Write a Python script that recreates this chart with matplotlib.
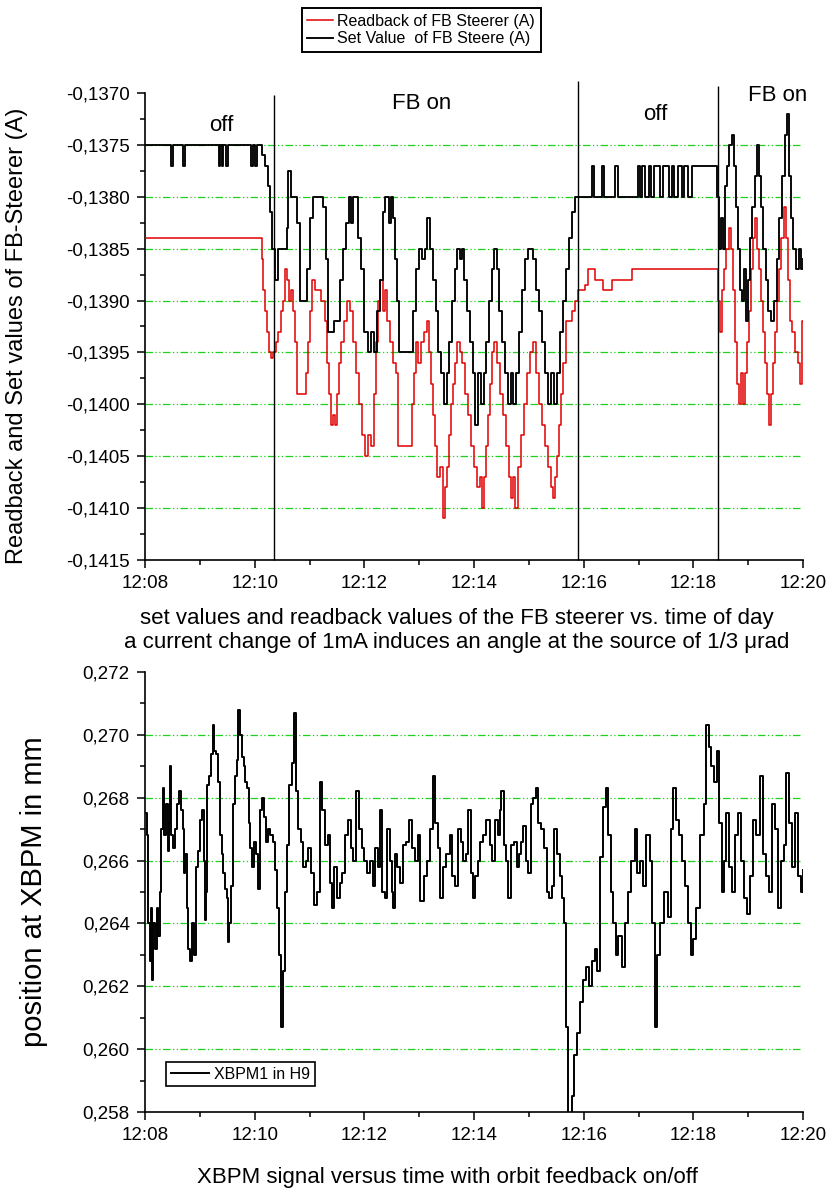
import matplotlib
matplotlib.use('Agg')
import matplotlib.pyplot as plt
from matplotlib.ticker import MultipleLocator, FuncFormatter

plt.rcParams['font.family'] = ['Liberation Sans', 'DejaVu Sans']
plt.rcParams['axes.unicode_minus'] = False

# times are minutes after 12:00
set_t = [8.00, 8.48, 8.51, 8.70, 8.73, 9.34, 9.37, 9.40, 9.43, 9.48, 9.52, 9.93, 9.97, 10.00, 10.05,
         10.13, 10.19, 10.24, 10.28, 10.32, 10.37, 10.43, 10.59, 10.61, 10.66, 10.77, 10.83, 10.95,
         11.01, 11.06, 11.25, 11.30, 11.34, 11.45, 11.56, 11.61, 11.67, 11.72, 11.76, 11.80, 11.88,
         11.94, 11.99, 12.07, 12.12, 12.18, 12.23, 12.29, 12.34, 12.38, 12.45, 12.49, 12.52, 12.56,
         12.60, 12.63, 12.89, 12.94, 12.99, 13.05, 13.11, 13.14, 13.20, 13.25, 13.31, 13.34, 13.40,
         13.45, 13.51, 13.54, 13.60, 13.65, 13.69, 13.75, 13.78, 13.82, 13.87, 13.93, 13.98, 14.02,
         14.07, 14.13, 14.18, 14.22, 14.27, 14.33, 14.37, 14.42, 14.46, 14.51, 14.57, 14.62, 14.68,
         14.71, 14.77, 14.82, 14.88, 14.93, 14.98, 15.08, 15.13, 15.19, 15.24, 15.30, 15.35, 15.40,
         15.46, 15.51, 15.57, 15.62, 15.68, 15.73, 15.79, 15.84, 16.15, 16.19, 16.34, 16.37, 16.57,
         16.63, 16.99, 17.03, 17.06, 17.12, 17.19, 17.23, 17.28, 17.39, 17.45, 17.56, 17.61, 17.65,
         17.72, 17.80, 17.83, 17.90, 17.98, 18.43, 18.47, 18.51, 18.54, 18.58, 18.61, 18.65, 18.71,
         18.74, 18.78, 18.82, 18.85, 18.89, 18.92, 18.96, 19.00, 19.03, 19.07, 19.13, 19.16, 19.20,
         19.24, 19.27, 19.33, 19.36, 19.42, 19.47, 19.53, 19.56, 19.62, 19.67, 19.71, 19.75, 19.78,
         19.82, 19.87, 19.93, 19.96, 20.00]
set_v = [-0.1375, -0.1377, -0.1375, -0.1377, -0.1375, -0.1377, -0.1375, -0.1377, -0.1375, -0.1377,
         -0.1375, -0.1377, -0.1375, -0.1377, -0.1375,
         -0.1376, -0.1377, -0.1379, -0.13815, -0.1385, -0.1388, -0.1385, -0.1383, -0.13775, -0.1380,
         -0.13825, -0.1390, -0.1387, -0.1382, -0.1380, -0.1381, -0.1386, -0.1393, -0.1392, -0.1388,
         -0.1385, -0.13825, -0.1380, -0.13825, -0.1380, -0.1384, -0.1387, -0.1393, -0.1395, -0.1393,
         -0.1395, -0.1391, -0.1388, -0.13815, -0.1380, -0.13825, -0.1380, -0.1382, -0.1386, -0.1390,
         -0.1395, -0.1391, -0.1387, -0.1385, -0.1386, -0.1385, -0.1382, -0.1385, -0.1388, -0.1391,
         -0.1395, -0.1397, -0.1400, -0.1397, -0.1394, -0.1390, -0.1387, -0.1385, -0.1386, -0.1385,
         -0.1388, -0.1391, -0.1394, -0.1397, -0.1402, -0.1397, -0.1400, -0.1397, -0.1394, -0.1390,
         -0.1387, -0.1385, -0.1387, -0.1391, -0.1394, -0.1397, -0.1400, -0.1397, -0.1400, -0.1397,
         -0.1393, -0.1389, -0.1386, -0.1385, -0.1386, -0.1389, -0.1391, -0.1394, -0.1397, -0.1400,
         -0.1397, -0.1400, -0.1397, -0.1393, -0.1390, -0.1387, -0.1384, -0.13815, -0.1380, -0.1377,
         -0.1380, -0.1377, -0.1380, -0.1377, -0.1380, -0.1377, -0.1380, -0.1377, -0.1380, -0.1377,
         -0.1380, -0.1377, -0.1380, -0.1377, -0.1380, -0.1377, -0.1380, -0.1377, -0.1380, -0.1377,
         -0.1380, -0.1377, -0.1380, -0.1385, -0.1382, -0.1385, -0.1379, -0.1377, -0.1375, -0.1374,
         -0.1377, -0.1381, -0.1385, -0.1389, -0.1390, -0.1387, -0.1392, -0.1388, -0.1384, -0.1381,
         -0.1378, -0.1375, -0.1378, -0.1381, -0.1385, -0.1388, -0.1391, -0.1392, -0.1390, -0.1386,
         -0.1382, -0.1378, -0.1374, -0.1372, -0.1378, -0.1382, -0.1385, -0.1387, -0.1385, -0.1387,
         -0.1386]

rb_t = [8.00, 10.13, 10.15, 10.19, 10.22, 10.26, 10.30, 10.33, 10.39, 10.43, 10.48, 10.52, 10.55,
        10.59, 10.63, 10.66, 10.70, 10.74, 10.77, 10.81, 10.94, 10.97, 11.01, 11.05, 11.10, 11.16,
        11.21, 11.28, 11.32, 11.36, 11.39, 11.43, 11.47, 11.50, 11.54, 11.57, 11.63, 11.68, 11.74,
        11.79, 11.85, 11.90, 11.96, 12.01, 12.07, 12.12, 12.18, 12.21, 12.25, 12.29, 12.34, 12.38,
        12.41, 12.47, 12.52, 12.58, 12.61, 12.87, 12.91, 12.94, 12.98, 13.04, 13.09, 13.14, 13.18,
        13.22, 13.25, 13.29, 13.33, 13.38, 13.43, 13.47, 13.51, 13.54, 13.58, 13.62, 13.65, 13.69,
        13.75, 13.78, 13.84, 13.89, 13.95, 14.00, 14.06, 14.11, 14.15, 14.18, 14.22, 14.26, 14.29,
        14.33, 14.37, 14.42, 14.47, 14.53, 14.58, 14.64, 14.68, 14.71, 14.75, 14.80, 14.86, 14.91,
        14.97, 15.02, 15.08, 15.13, 15.19, 15.24, 15.30, 15.35, 15.40, 15.44, 15.48, 15.51, 15.55,
        15.59, 15.62, 15.68, 15.73, 15.79, 15.84, 15.90, 15.97, 16.02, 16.08, 16.20, 16.35, 16.52,
        16.88, 18.45, 18.48, 18.52, 18.56, 18.60, 18.65, 18.69, 18.72, 18.76, 18.80, 18.83, 18.87,
        18.91, 18.94, 18.98, 19.01, 19.05, 19.09, 19.13, 19.16, 19.20, 19.24, 19.27, 19.31, 19.35,
        19.38, 19.42, 19.45, 19.49, 19.53, 19.56, 19.60, 19.66, 19.69, 19.73, 19.76, 19.80, 19.85,
        19.91, 19.95, 19.98, 20.00]
rb_v = [-0.1384, -0.1386, -0.1389, -0.1391, -0.1393, -0.1395, -0.13955, -0.1395, -0.1394, -0.1393,
        -0.1391, -0.1390, -0.1387, -0.1388, -0.1390, -0.1389, -0.1391, -0.1394, -0.1399, -0.1399,
        -0.1397, -0.1394, -0.1391, -0.1388, -0.1389, -0.1389, -0.1390, -0.1392, -0.1396, -0.1399,
        -0.1402, -0.1401, -0.1402, -0.1399, -0.1396, -0.1394, -0.1392, -0.1390, -0.1391, -0.1394,
        -0.1397, -0.1400, -0.1403, -0.1405, -0.1403, -0.1404, -0.1399, -0.1394, -0.1390, -0.1388,
        -0.1391, -0.1389, -0.1392, -0.1394, -0.1396, -0.1397, -0.1404, -0.1400, -0.1397, -0.1394,
        -0.1396, -0.1394, -0.1393, -0.1392, -0.1395, -0.1398, -0.1401, -0.1404, -0.1407, -0.1406,
        -0.1411, -0.1408, -0.1406, -0.1403, -0.1400, -0.1398, -0.1396, -0.1394, -0.1395, -0.1396,
        -0.1399, -0.1401, -0.1404, -0.1406, -0.1408, -0.1407, -0.1410, -0.1407, -0.1404, -0.1401,
        -0.1398, -0.1395, -0.1394, -0.1396, -0.1399, -0.1401, -0.1404, -0.1407, -0.1409, -0.1407,
        -0.1410, -0.1406, -0.1403, -0.1400, -0.1397, -0.1395, -0.1394, -0.1397, -0.1400, -0.1402,
        -0.1404, -0.1406, -0.1408, -0.1409, -0.1407, -0.1405, -0.1402, -0.1399, -0.1396, -0.1392,
        -0.1392, -0.1391, -0.1390, -0.1389, -0.1389, -0.13885, -0.1387, -0.1388, -0.1389, -0.1388,
        -0.1387, -0.1390, -0.1393, -0.1389, -0.1387, -0.1385, -0.1383, -0.1385, -0.1389, -0.1394,
        -0.1398, -0.1400, -0.1397, -0.1400, -0.1397, -0.1394, -0.1391, -0.1387, -0.1384, -0.1382,
        -0.1385, -0.1387, -0.1390, -0.1393, -0.1396, -0.1399, -0.1402, -0.1399, -0.1396, -0.1393,
        -0.1390, -0.1387, -0.1384, -0.1381, -0.1384, -0.1388, -0.1392, -0.1393, -0.1395, -0.1396,
        -0.1398, -0.1392, -0.1392]

xbpm_t = [8.000, 8.040, 8.060, 8.091, 8.110, 8.128, 8.150, 8.182, 8.210, 8.237, 8.274, 8.300, 8.328,
          8.350, 8.380, 8.410, 8.440, 8.456, 8.475, 8.511, 8.547, 8.584, 8.620, 8.650, 8.693, 8.715,
          8.730, 8.760, 8.784, 8.821, 8.860, 8.900, 8.930, 8.967, 9.003, 9.040, 9.075, 9.094, 9.115,
          9.131, 9.160, 9.200, 9.240, 9.260, 9.300, 9.331, 9.368, 9.400, 9.430, 9.460, 9.490, 9.514,
          9.540, 9.570, 9.605, 9.641, 9.670, 9.700, 9.730, 9.769, 9.800, 9.830, 9.860, 9.890, 9.915,
          9.950, 9.990, 10.020, 10.061, 10.090, 10.130, 10.170, 10.200, 10.240, 10.280, 10.330,
          10.371, 10.400, 10.440, 10.480, 10.510, 10.550, 10.590, 10.630, 10.680, 10.717, 10.750,
          10.790, 10.840, 10.880, 10.930, 10.980, 11.030, 11.090, 11.140, 11.192, 11.230, 11.283,
          11.330, 11.374, 11.410, 11.450, 11.500, 11.556, 11.600, 11.640, 11.700, 11.760, 11.800,
          11.850, 11.900, 11.960, 12.000, 12.050, 12.104, 12.150, 12.200, 12.250, 12.290, 12.330,
          12.380, 12.420, 12.468, 12.500, 12.523, 12.560, 12.600, 12.651, 12.705, 12.760, 12.810,
          12.870, 12.924, 12.979, 13.020, 13.080, 13.150, 13.200, 13.250, 13.290, 13.340, 13.380,
          13.435, 13.490, 13.563, 13.600, 13.660, 13.709, 13.760, 13.800, 13.850, 13.891, 13.940,
          13.980, 14.019, 14.070, 14.110, 14.165, 14.220, 14.290, 14.330, 14.383, 14.430, 14.475,
          14.500, 14.540, 14.580, 14.620, 14.680, 14.730, 14.780, 14.820, 14.860, 14.900, 14.950,
          14.990, 15.030, 15.080, 15.130, 15.170, 15.220, 15.270, 15.330, 15.370, 15.420, 15.460,
          15.510, 15.560, 15.600, 15.640, 15.680, 15.720, 15.790, 15.820, 15.870, 15.934, 15.990,
          16.043, 16.100, 16.150, 16.200, 16.244, 16.300, 16.353, 16.410, 16.450, 16.490, 16.530,
          16.580, 16.630, 16.690, 16.750, 16.800, 16.860, 16.930, 16.973, 17.020, 17.083, 17.140,
          17.200, 17.250, 17.300, 17.340, 17.400, 17.460, 17.539, 17.594, 17.630, 17.680, 17.740,
          17.800, 17.849, 17.900, 17.950, 18.000, 18.050, 18.122, 18.190, 18.230, 18.280, 18.330,
          18.380, 18.430, 18.470, 18.520, 18.560, 18.600, 18.650, 18.700, 18.760, 18.820, 18.870,
          18.920, 18.970, 19.030, 19.080, 19.150, 19.220, 19.270, 19.320, 19.380, 19.430, 19.490,
          19.550, 19.600, 19.650, 19.690, 19.740, 19.790, 19.850, 19.900, 19.960, 20.000]
xbpm_v = [0.2675, 0.2668, 0.2640, 0.2628, 0.2645, 0.2622, 0.2640, 0.2632, 0.2645, 0.2636, 0.2650,
          0.2670, 0.2683, 0.2668, 0.2678, 0.2663, 0.2672, 0.2690, 0.2668, 0.2664, 0.2670, 0.2678,
          0.2682, 0.2676, 0.2670, 0.2656, 0.2662, 0.2645, 0.2632, 0.2628, 0.2640, 0.2630, 0.2658,
          0.2663, 0.2673, 0.2676, 0.2660, 0.2641, 0.2650, 0.2684, 0.2687, 0.2694, 0.2703, 0.2695,
          0.2694, 0.2685, 0.2668, 0.2662, 0.2656, 0.2651, 0.2648, 0.2634, 0.2640, 0.2652, 0.2678,
          0.2687, 0.2692, 0.2708, 0.2700, 0.2693, 0.2690, 0.2685, 0.2683, 0.2672, 0.2664, 0.2658,
          0.2666, 0.2662, 0.2651, 0.2676, 0.2680, 0.2674, 0.2666, 0.2670, 0.2668, 0.2666, 0.2657,
          0.2645, 0.2630, 0.2607, 0.2625, 0.2650, 0.2665, 0.2684, 0.2691, 0.2707, 0.2682, 0.2670,
          0.2666, 0.2658, 0.2660, 0.2664, 0.2656, 0.2646, 0.2650, 0.2685, 0.2676, 0.2665, 0.2668,
          0.2653, 0.2645, 0.2658, 0.2648, 0.2653, 0.2656, 0.2668, 0.2673, 0.2664, 0.2660, 0.2682,
          0.2670, 0.2664, 0.2660, 0.2656, 0.2660, 0.2652, 0.2664, 0.2658, 0.2676, 0.2650, 0.2648,
          0.2670, 0.2660, 0.2650, 0.2645, 0.2662, 0.2658, 0.2653, 0.2665, 0.2666, 0.2673, 0.2664,
          0.2660, 0.2668, 0.2647, 0.2655, 0.2660, 0.2670, 0.2687, 0.2672, 0.2664, 0.2648, 0.2658,
          0.2662, 0.2668, 0.2655, 0.2652, 0.2670, 0.2666, 0.2660, 0.2662, 0.2676, 0.2656, 0.2648,
          0.2655, 0.2660, 0.2666, 0.2668, 0.2673, 0.2665, 0.2660, 0.2673, 0.2668, 0.2676, 0.2682,
          0.2665, 0.2660, 0.2648, 0.2665, 0.2666, 0.2658, 0.2662, 0.2666, 0.2671, 0.2660, 0.2656,
          0.2678, 0.2680, 0.2683, 0.2672, 0.2670, 0.2664, 0.2650, 0.2648, 0.2652, 0.2670, 0.2662,
          0.2655, 0.2648, 0.2640, 0.2607, 0.2570, 0.2585, 0.2598, 0.2605, 0.2615, 0.2622, 0.2626,
          0.2620, 0.2628, 0.2632, 0.2625, 0.2661, 0.2677, 0.2683, 0.2668, 0.2650, 0.2640, 0.2630,
          0.2636, 0.2626, 0.2640, 0.2650, 0.2660, 0.2670, 0.2656, 0.2660, 0.2652, 0.2668, 0.2660,
          0.2640, 0.2607, 0.2630, 0.2640, 0.2650, 0.2642, 0.2670, 0.2683, 0.2673, 0.2668, 0.2660,
          0.2652, 0.2640, 0.2630, 0.2635, 0.2645, 0.2668, 0.2678, 0.2703, 0.2696, 0.2690, 0.2685,
          0.2695, 0.2672, 0.2650, 0.2660, 0.2675, 0.2658, 0.2650, 0.2668, 0.2675, 0.2660, 0.2648,
          0.2643, 0.2655, 0.2673, 0.2668, 0.2687, 0.2662, 0.2655, 0.2650, 0.2678, 0.2670, 0.2645,
          0.2660, 0.2665, 0.2688, 0.2672, 0.2658, 0.2675, 0.2655, 0.2650, 0.2657]

switch_t = [10.36, 15.90, 18.45]
switch_top = [-0.13702, -0.13688, -0.13693]
state_text = ['off', 'FB on', 'off', 'FB on']
state_x = [9.39, 13.05, 17.30, 19.53]
state_y = [-0.13731, -0.13710, -0.13721, -0.13702]
grid_top = [-0.1375, -0.1380, -0.1385, -0.1390, -0.1395, -0.1400, -0.1405, -0.1410]
grid_bot = [0.260, 0.262, 0.264, 0.266, 0.268, 0.270]

GREEN = '#1fd01f'
grid_ls = (0, (6, 2, 1, 2, 1, 2))

fig = plt.figure(figsize=(8.34, 11.97), dpi=100)
ax1 = fig.add_axes([0.1739, 0.5322, 0.7890, 0.3901])
ax2 = fig.add_axes([0.1739, 0.0710, 0.7890, 0.3676])


def comma(dec):
    return FuncFormatter(lambda v, p: f"{v:.{dec}f}".replace('.', ','))


def timefmt(v, p):
    return f"12:{int(round(v)):02d}"


for ax in (ax1, ax2):
    for s in ('top', 'right'):
        ax.spines[s].set_visible(False)
    for s in ('left', 'bottom'):
        ax.spines[s].set_linewidth(1.2)
    ax.set_xlim(8, 20)
    ax.xaxis.set_major_locator(MultipleLocator(2))
    ax.xaxis.set_minor_locator(MultipleLocator(1))
    ax.xaxis.set_major_formatter(FuncFormatter(timefmt))
    ax.tick_params(which='major', direction='out', length=6, width=1.1, labelsize=13.5, pad=5)
    ax.tick_params(which='minor', direction='out', length=3.5, width=1.1)

ax1.hlines(grid_top, 8, 19.95, colors=GREEN, linestyles=[grid_ls], linewidth=0.9, zorder=1)
ax1.plot(rb_t, rb_v, drawstyle='steps-post', color='#e00000', lw=1.1,
         label='Readback of FB Steerer (A)', zorder=3)
ax1.plot(set_t, set_v, drawstyle='steps-post', color='black', lw=1.35,
         label='Set Value  of FB Steere (A)', zorder=4)
ax1.vlines(switch_t, -0.1415, switch_top, colors='black', lw=1.0, clip_on=False, zorder=5)
for s, x, y in zip(state_text, state_x, state_y):
    ax1.text(x, y, s, ha='center', va='center', fontsize=16)
ax1.set_ylim(-0.1415, -0.1370)
ax1.yaxis.set_major_locator(MultipleLocator(0.0005))
ax1.yaxis.set_minor_locator(MultipleLocator(0.00025))
ax1.yaxis.set_major_formatter(comma(4))
ax1.set_ylabel('Readback and Set values of FB-Steerer (A)', fontsize=17)
ax1.yaxis.set_label_coords(-0.178, 0.48)
leg = fig.legend(*ax1.get_legend_handles_labels(), loc='center', bbox_to_anchor=(0.505, 0.975),
                 fontsize=11.5, handlelength=1.6, handletextpad=0.3, borderpad=0.35,
                 labelspacing=0.15, fancybox=False, framealpha=1, edgecolor='black')
leg.get_frame().set_linewidth(1.4)

ax2.hlines(grid_bot, 8, 19.95, colors=GREEN, linestyles=[grid_ls], linewidth=0.9, zorder=1)
ax2.plot(xbpm_t, xbpm_v, drawstyle='steps-post', color='black', lw=1.4,
         label='XBPM1 in H9', zorder=3)
ax2.set_ylim(0.258, 0.272)
ax2.yaxis.set_major_locator(MultipleLocator(0.002))
ax2.yaxis.set_minor_locator(MultipleLocator(0.001))
ax2.yaxis.set_major_formatter(comma(3))
ax2.set_ylabel('position at XBPM in mm', fontsize=21)
ax2.yaxis.set_label_coords(-0.148, 0.5)
leg2 = ax2.legend(loc='lower left', bbox_to_anchor=(0.02, 0.04), fontsize=11.5,
                  handlelength=2.4, handletextpad=0.3, borderpad=0.3, fancybox=False,
                  framealpha=1, edgecolor='black')
leg2.get_frame().set_linewidth(1.2)

fig.text(0.548, 0.4835, 'set values and readback values of the FB steerer vs. time of day',
         ha='center', va='center', fontsize=16)
fig.text(0.548, 0.4635, 'a current change of 1mA induces an angle at the source of 1/3 \u03bcrad',
         ha='center', va='center', fontsize=16)
fig.text(0.537, 0.016, 'XBPM signal versus time with orbit feedback on/off',
         ha='center', va='center', fontsize=16)

fig.savefig('out.png', dpi=100)
